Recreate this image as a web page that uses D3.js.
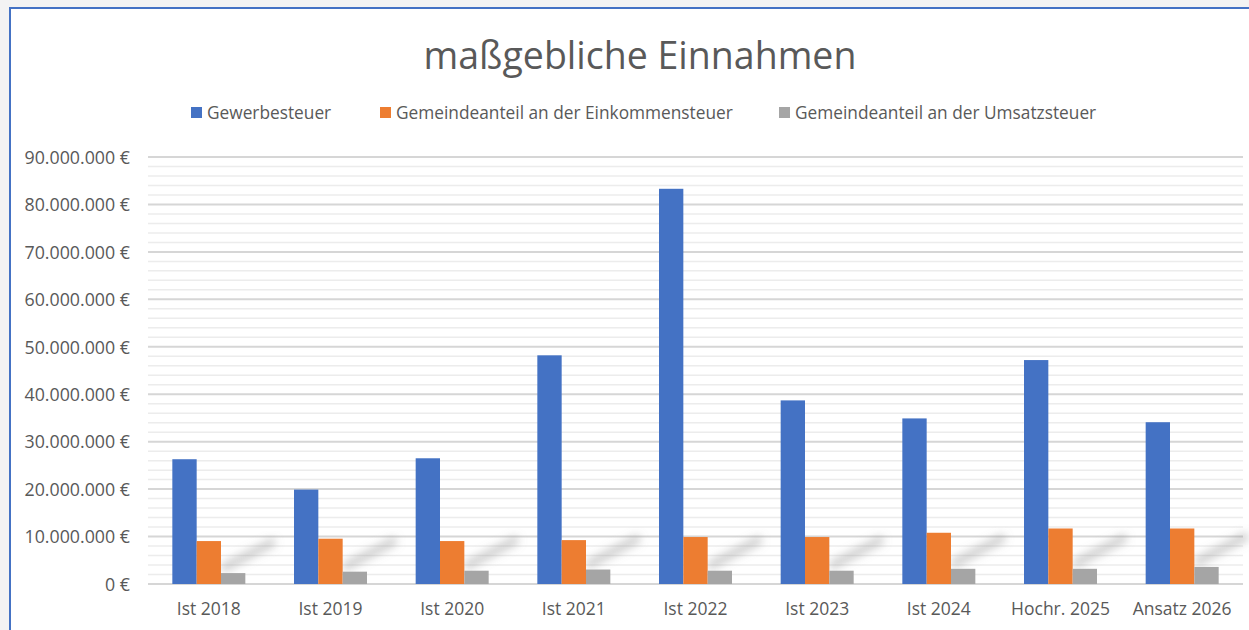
<!DOCTYPE html>
<html>
<head>
<meta charset="utf-8">
<script src="https://cdn.jsdelivr.net/npm/d3@7"></script>
<style>
  body { margin: 0; background: #f3f3f3; }
  svg { display: block; font-family: "Open Sans", sans-serif; }
</style>
</head>
<body>
<svg id="chart"></svg>
<script>
// Werte in Euro
const categories = ["Ist 2018", "Ist 2019", "Ist 2020", "Ist 2021", "Ist 2022", "Ist 2023", "Ist 2024", "Hochr. 2025", "Ansatz 2026"];
const seriesNames = ["Gewerbesteuer", "Gemeindeanteil an der Einkommensteuer", "Gemeindeanteil an der Umsatzsteuer"];
const gewerbesteuer = [26300000, 19900000, 26500000, 48200000, 83300000, 38700000, 34900000, 47200000, 34100000];
const einkommensteuer = [9050000, 9550000, 9050000, 9250000, 9900000, 9900000, 10800000, 11700000, 11700000];
const umsatzsteuer = [2300000, 2600000, 2800000, 3050000, 2800000, 2800000, 3200000, 3200000, 3600000];
const yTicks = [0, 10000000, 20000000, 30000000, 40000000, 50000000, 60000000, 70000000, 80000000, 90000000];
const colors = ["#4472c4", "#ed7d31", "#a5a5a5"];

const W = 1249, H = 630;
const margin = { top: 157, right: 6, bottom: 46, left: 148 };
const iw = W - margin.left - margin.right;
const ih = H - margin.top - margin.bottom;
const font = "'Open Sans', sans-serif";

const svg = d3.select("#chart").attr("width", W).attr("height", H);

// Hintergrund und Rahmen
svg.append("rect").attr("x", 10).attr("y", 8).attr("width", W).attr("height", H)
  .attr("fill", "#fff");
svg.append("path").attr("d", `M10,${H} V8 H${W}`)
  .attr("fill", "none").attr("stroke", "#4472c4").attr("stroke-width", 2);

const defs = svg.append("defs");
defs.append("filter").attr("id", "blur").attr("x", "-50%").attr("y", "-50%").attr("width", "200%").attr("height", "200%")
  .append("feGaussianBlur").attr("stdDeviation", 4);

const g = svg.append("g").attr("transform", `translate(${margin.left},${margin.top})`);

const x0 = d3.scaleBand().domain(categories).range([0, iw]).paddingInner(0.4).paddingOuter(0.2);
const x1 = d3.scaleBand().domain(seriesNames).range([0, x0.bandwidth()]);
const y = d3.scaleLinear().domain([0, 90000000]).range([ih, 0]);

// Hilfslinien (2 Mio.)
g.append("g").selectAll("line").data(d3.range(0, 90000001, 2000000).filter(v => v % 10000000 !== 0))
  .join("line")
  .attr("x1", 0).attr("x2", iw)
  .attr("y1", d => y(d)).attr("y2", d => y(d))
  .attr("stroke", "#ececec").attr("stroke-width", 1.5);

// Hauptlinien
g.append("g").selectAll("line").data(yTicks)
  .join("line")
  .attr("x1", 0).attr("x2", iw)
  .attr("y1", d => y(d)).attr("y2", d => y(d))
  .attr("stroke", "#d6d6d6").attr("stroke-width", 2);

const fmt = v => d3.format(",")(v).replace(/,/g, ".") + " €";

const yAxis = g.append("g").attr("transform", "translate(-18,0)")
  .call(d3.axisLeft(y).tickValues(yTicks).tickFormat(fmt).tickSize(0).tickPadding(0))
  .attr("font-family", font);
yAxis.select(".domain").remove();
yAxis.selectAll("text").attr("fill", "#595959").style("font-size", "17.8px").attr("dy", "0.35em");

const xAxis = g.append("g").attr("transform", `translate(0,${ih})`)
  .call(d3.axisBottom(x0).tickSize(0).tickPadding(19))
  .attr("font-family", font);
xAxis.select(".domain").remove();
xAxis.selectAll("text").attr("fill", "#595959").style("font-size", "17.5px");

const rows = categories.map((c, i) => ({ cat: c, vals: [gewerbesteuer[i], einkommensteuer[i], umsatzsteuer[i]] }));

// weicher Schatten hinter den grauen Balken
g.append("g").selectAll("line").data(rows).join("line")
  .attr("x1", d => x0(d.cat) + x1(seriesNames[2]) + 4)
  .attr("y1", d => y(d.vals[2]) - 6)
  .attr("x2", d => x0(d.cat) + x1(seriesNames[2]) + x1.bandwidth() + 26)
  .attr("y2", d => y(d.vals[2]) - 30)
  .attr("stroke", "#8a8a8a").attr("stroke-width", 9).attr("stroke-opacity", 0.4)
  .attr("stroke-linecap", "round").attr("filter", "url(#blur)");

const groups = g.append("g").selectAll("g").data(rows).join("g")
  .attr("transform", d => `translate(${x0(d.cat)},0)`);

groups.selectAll("rect").data(d => d.vals.map((v, k) => ({ k, v })))
  .join("rect")
  .attr("x", d => x1(seriesNames[d.k]))
  .attr("width", x1.bandwidth())
  .attr("y", d => y(d.v))
  .attr("height", d => ih - y(d.v))
  .attr("fill", d => colors[d.k]);

// Titel
svg.append("text").attr("x", 640).attr("y", 69).attr("text-anchor", "middle")
  .attr("fill", "#595959").style("font-size", "37.5px").text("maßgebliche Einnahmen");

// Legende
const legendX = [191, 380, 779];
const leg = svg.append("g").selectAll("g").data(seriesNames).join("g")
  .attr("transform", (d, i) => `translate(${legendX[i]},113)`);
leg.append("rect").attr("x", 0).attr("y", -6).attr("width", 11).attr("height", 11)
  .attr("fill", (d, i) => colors[i]);
leg.append("text").attr("x", 16).attr("dy", "0.35em").attr("fill", "#595959")
  .style("font-size", "17.3px").text(d => d);
</script>
</body>
</html>
